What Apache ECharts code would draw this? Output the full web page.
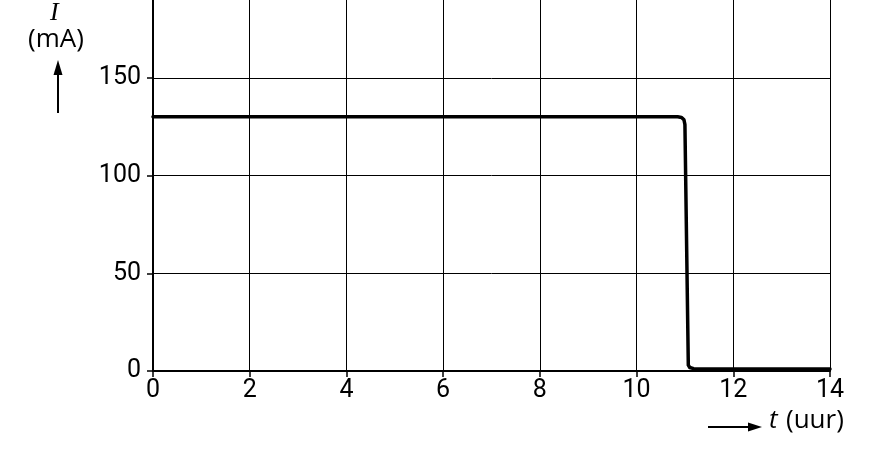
<!DOCTYPE html>
<html>
<head>
<meta charset="utf-8">
<script src="https://cdn.jsdelivr.net/npm/echarts@6/dist/echarts.min.js"></script>
<style>
html,body{margin:0;padding:0;background:#fff;overflow:hidden;width:871px;height:466px;}
#chart{width:871px;height:486px;margin-top:-20px;}
</style>
</head>
<body>
<div id="chart"></div>
<script>
// Data
const timeHours = [0, 10.85, 10.93, 10.98, 11.0, 11.07, 11.1, 11.18, 11.3, 14];
const currentMA = [130, 130, 129.7, 128.5, 126, 3, 1.8, 1.2, 1, 1];
const xTicks = [0, 2, 4, 6, 8, 10, 12, 14];
const yTicks = [0, 50, 100, 150];

const FONT = 'Roboto, "Liberation Sans", sans-serif';
const NAMEFONT = '"Open Sans", "Liberation Sans", sans-serif';
const OFF = 20; // the chart div is shifted up by this many pixels

const chart = echarts.init(document.getElementById('chart'), null, {renderer: 'canvas'});
chart.setOption({
  animation: false,
  backgroundColor: '#fff',
  grid: {left: 153, right: 41, top: 0, bottom: 95, containLabel: false},
  xAxis: {
    type: 'value', min: xTicks[0], max: xTicks[xTicks.length - 1], interval: 2,
    axisLine: {show: true, onZero: false, lineStyle: {color: '#000', width: 2}},
    axisTick: {show: true, inside: false, length: 6, lineStyle: {color: '#000', width: 1.5}},
    splitLine: {show: true, lineStyle: {color: '#000', width: 1}},
    axisLabel: {color: '#000', fontSize: 25, fontFamily: FONT, margin: 7}
  },
  yAxis: {
    type: 'value', min: 0, max: 200, interval: 50,
    axisLine: {show: true, onZero: false, lineStyle: {color: '#000', width: 2}},
    axisTick: {show: true, inside: false, length: 6, lineStyle: {color: '#000', width: 1.5}},
    splitLine: {show: true, lineStyle: {color: '#000', width: 1}},
    axisLabel: {color: '#000', fontSize: 25, fontFamily: FONT, margin: 12,
      formatter: v => yTicks.includes(v) ? String(v) : ''}
  },
  series: [{
    type: 'line',
    data: timeHours.map((t, i) => [t, currentMA[i]]),
    showSymbol: false,
    smooth: false,
    lineStyle: {color: '#000', width: 3.5, cap: 'round', join: 'round'}
  }],
  graphic: [
    {type: 'text', left: 50, top: OFF, style: {text: 'I', font: 'italic 26px "Liberation Serif", serif', fill: '#000'}},
    {type: 'text', left: 28, top: OFF + 27, style: {text: '(mA)', font: '26px ' + NAMEFONT, fill: '#000'}},
    {type: 'line', shape: {x1: 58, y1: OFF + 113, x2: 58, y2: OFF + 70}, style: {stroke: '#000', lineWidth: 2}},
    {type: 'polygon', shape: {points: [[58, OFF + 60], [53.5, OFF + 75], [62.5, OFF + 75]]}, style: {fill: '#000'}},
    {type: 'line', shape: {x1: 708, y1: OFF + 427, x2: 750, y2: OFF + 427}, style: {stroke: '#000', lineWidth: 2}},
    {type: 'polygon', shape: {points: [[762, OFF + 427], [748, OFF + 422.5], [748, OFF + 431.5]]}, style: {fill: '#000'}},
    {type: 'text', left: 769, top: OFF + 408, style: {text: 't', font: 'italic 26px ' + NAMEFONT, fill: '#000'}},
    {type: 'text', left: 786, top: OFF + 408, style: {text: '(uur)', font: '26px ' + NAMEFONT, fill: '#000'}}
  ]
});
</script>
</body>
</html>
